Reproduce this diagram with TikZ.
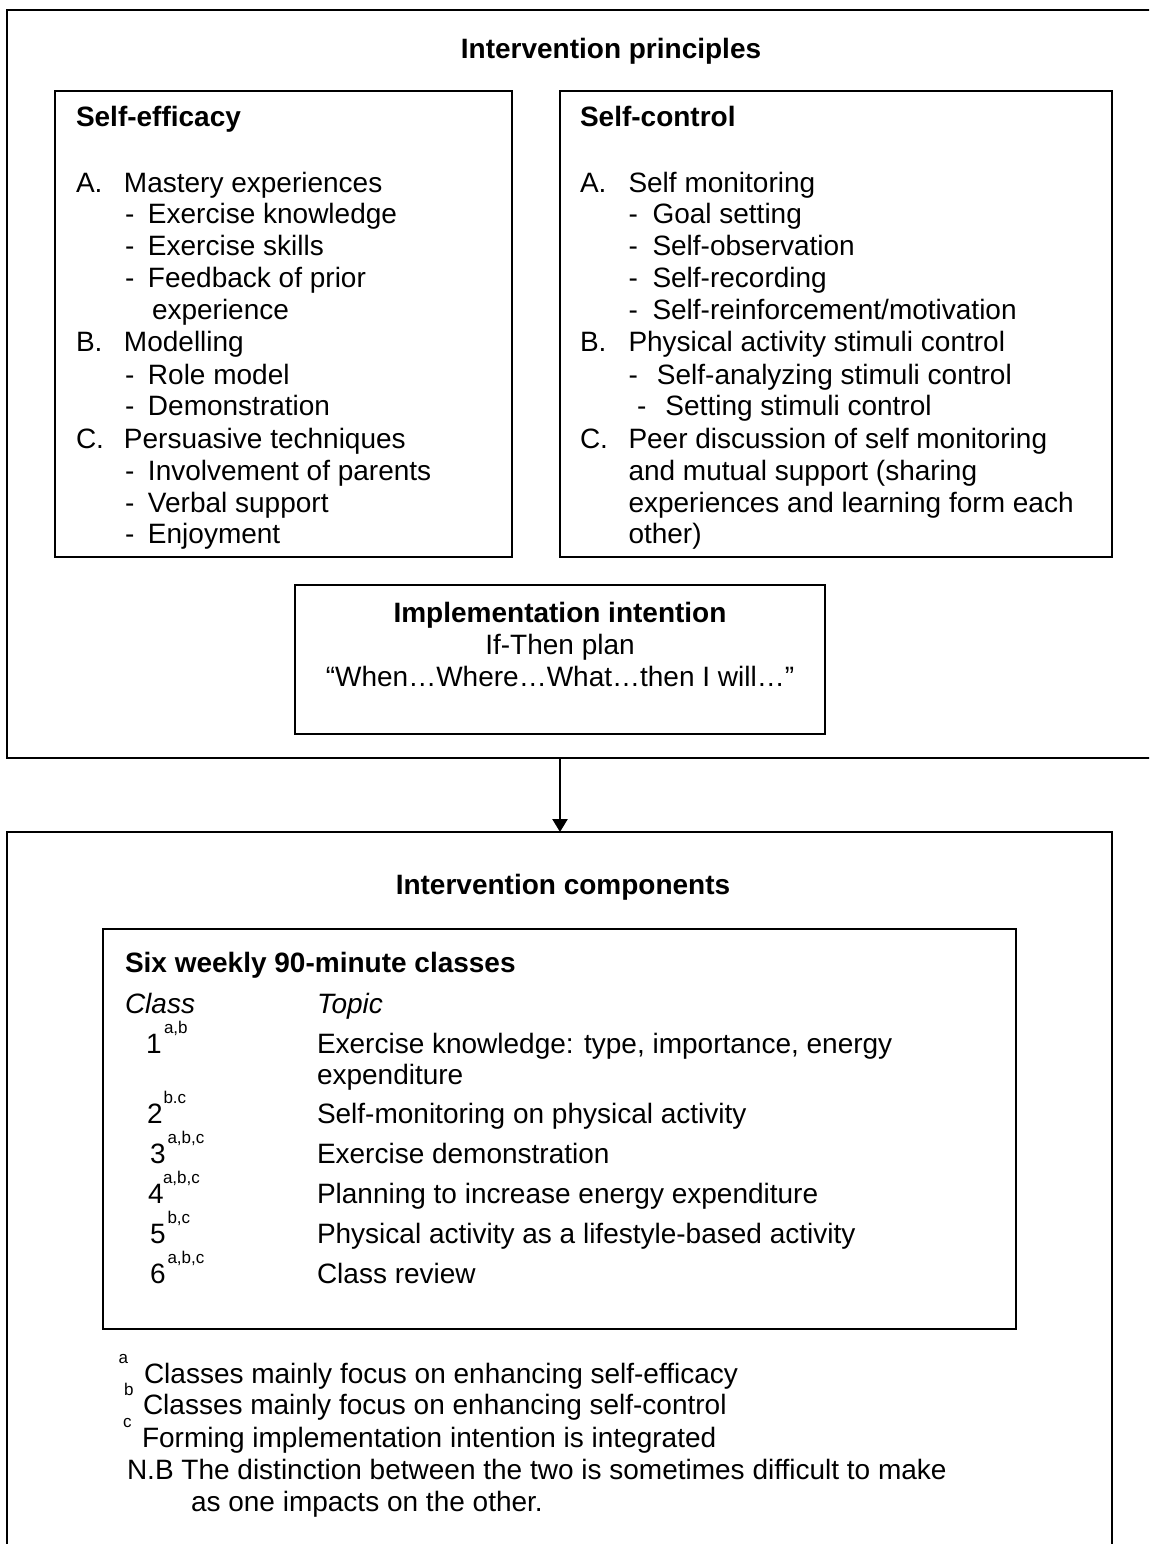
\documentclass[tikz,border=0pt]{standalone}
\usepackage{fontspec}
\setmainfont{Liberation Sans}
\usetikzlibrary{arrows.meta}
\newcommand\bodyfont{\fontsize{28}{32}\selectfont}
\newcommand\smallsup{\fontsize{17}{19}\selectfont}
\newcommand\lbl[2]{\makebox[#1][l]{#2}}
\begin{document}
\begin{tikzpicture}[x=1pt,y=-1pt,
  frame/.style={draw, line width=2pt, anchor=north west, inner sep=0pt, outer sep=0pt},
  txt/.style={anchor=base west, inner sep=0pt, outer sep=0pt, font=\bodyfont},
  ctr/.style={anchor=base, inner sep=0pt, outer sep=0pt, font=\bodyfont},
  hd/.style={txt, font=\bodyfont\bfseries},
  chd/.style={ctr, font=\bodyfont\bfseries},
  itx/.style={txt, font=\bodyfont\itshape},
  supx/.style={anchor=base west, inner sep=0pt, outer sep=0pt, font=\smallsup},
  flow/.style={line width=2.5pt, -{Triangle[length=13pt,width=15pt]}}
]
\useasboundingbox (0,0) rectangle (1149,1544);
\fill[white] (0,0) rectangle (1149,1544);
\clip (0,0) rectangle (1149,1544);

% frames
\node[frame, minimum width=1170pt, minimum height=748pt] (principles) at (7,10) {};
\node[frame, minimum width=457pt, minimum height=466pt] (efficacy) at (55,91) {};
\node[frame, minimum width=552pt, minimum height=466pt] (control) at (560,91) {};
\node[frame, minimum width=530pt, minimum height=149pt] (implement) at (295,585) {};
\node[frame, minimum width=1105pt, minimum height=740pt] (components) at (7,832) {};
\node[frame, minimum width=913pt, minimum height=400pt] (classes) at (103,929) {};

\draw[flow] (principles.south -| implement.south) -- (components.north -| implement.south);

% top heading
\node[chd] (title1) at (611,59) {Intervention principles};

% self-efficacy
\node[hd] (seT) at (76,127) {Self-efficacy};
\node[txt] (seA) at (76,192) {\lbl{48pt}{A.}Mastery experiences};
\node[txt] (seA1) at (125,223) {\lbl{23pt}{-}Exercise knowledge};
\node[txt] (seA2) at (125,255) {\lbl{23pt}{-}Exercise skills};
\node[txt] (seA3) at (125,287) {\lbl{23pt}{-}Feedback of prior};
\node[txt] (seA3b) at (152,319) {experience};
\node[txt] (seB) at (76,351) {\lbl{48pt}{B.}Modelling};
\node[txt] (seB1) at (125,384) {\lbl{23pt}{-}Role model};
\node[txt] (seB2) at (125,415) {\lbl{23pt}{-}Demonstration};
\node[txt] (seC) at (76,448) {\lbl{48pt}{C.}Persuasive techniques};
\node[txt] (seC1) at (125,480) {\lbl{23pt}{-}Involvement of parents};
\node[txt] (seC2) at (125,512) {\lbl{23pt}{-}Verbal support};
\node[txt] (seC3) at (125,543) {\lbl{23pt}{-}Enjoyment};

% self-control
\node[hd] (scT) at (580,127) {Self-control};
\node[txt] (scA) at (580,192) {\lbl{48.5pt}{A.}Self monitoring};
\node[txt] (scA1) at (628.5,223) {\lbl{24pt}{-}Goal setting};
\node[txt] (scA2) at (628.5,255) {\lbl{24pt}{-}Self-observation};
\node[txt] (scA3) at (628.5,287) {\lbl{24pt}{-}Self-recording};
\node[txt] (scA4) at (628.5,319) {\lbl{24pt}{-}Self-reinforcement/motivation};
\node[txt] (scB) at (580,351) {\lbl{48.5pt}{B.}Physical activity stimuli control};
\node[txt] (scB1) at (628.5,384) {\lbl{28.5pt}{-}Self-analyzing stimuli control};
\node[txt] (scB2) at (637,415) {\lbl{28.5pt}{-}Setting stimuli control};
\node[txt] (scC) at (580,448) {\lbl{48.5pt}{C.}Peer discussion of self monitoring};
\node[txt] (scC1) at (628.5,480) {and mutual support (sharing};
\node[txt] (scC2) at (628.5,512) {experiences and learning form each};
\node[txt] (scC3) at (628.5,543) {other)};

% implementation intention
\node[chd] (imT) at (560,622) {Implementation intention};
\node[ctr] (im1) at (560,654) {If-Then plan};
\node[ctr] (im2) at (560,686) {“When…Where…What…then I will…”};

% components
\node[chd] (coT) at (563,894) {Intervention components};
\node[hd] (clT) at (125,972) {Six weekly 90-minute classes};
\node[itx] (clH1) at (125,1013) {Class};
\node[itx] (clH2) at (317,1013) {Topic};

\node[txt] (n1) at (146,1053) {1};
\node[supx] (s1) at (164,1033) {a,b};
\node[txt] (t1) at (317,1053) {Exercise knowledge: type, importance, energy};
\node[txt] (t1b) at (317,1084) {expenditure};

\node[txt] (n2) at (147,1123) {2};
\node[supx] (s2) at (163.5,1103) {b.c};
\node[txt] (t2) at (317,1123) {Self-monitoring on physical activity};

\node[txt] (n3) at (150,1163) {3};
\node[supx] (s3) at (167.5,1143) {a,b,c};
\node[txt] (t3) at (317,1163) {Exercise demonstration};

\node[txt] (n4) at (148,1203) {4};
\node[supx] (s4) at (163,1183) {a,b,c};
\node[txt] (t4) at (317,1203) {Planning to increase energy expenditure};

\node[txt] (n5) at (150,1243) {5};
\node[supx] (s5) at (167.5,1223) {b,c};
\node[txt] (t5) at (317,1243) {Physical activity as a lifestyle-based activity};

\node[txt] (n6) at (150,1283) {6};
\node[supx] (s6) at (167.5,1263) {a,b,c};
\node[txt] (t6) at (317,1283) {Class review};

% footnotes
\node[supx] (fa) at (118.5,1363) {a};
\node[txt] (f1) at (144,1383) {Classes mainly focus on enhancing self-efficacy};
\node[supx] (fb) at (124,1395) {b};
\node[txt] (f2) at (143,1414) {Classes mainly focus on enhancing self-control};
\node[supx] (fc) at (123,1427) {c};
\node[txt] (f3) at (142,1447) {Forming implementation intention is integrated};
\node[txt] (f4) at (127,1479) {N.B The distinction between the two is sometimes difficult to make};
\node[txt] (f5) at (191,1511) {as one impacts on the other.};
\end{tikzpicture}
\end{document}
